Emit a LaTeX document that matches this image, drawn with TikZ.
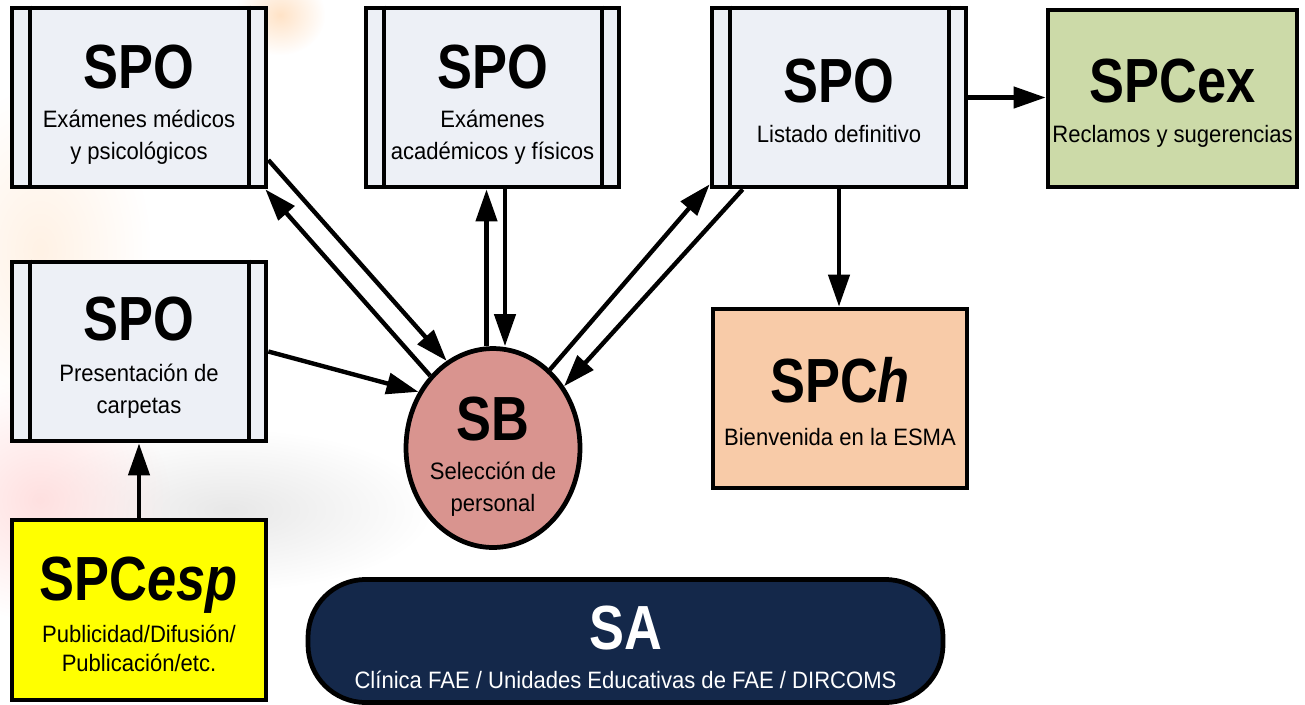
\documentclass[tikz,border=0pt]{standalone}
\usepackage{fontspec}
\setmainfont{Liberation Sans}
\newfontfamily\headfont[FakeStretch=0.84]{Liberation Sans}
\newfontfamily\subfont[FakeStretch=0.93]{Liberation Sans}
\usetikzlibrary{arrows.meta,shapes.geometric,calc,fadings}

\definecolor{spofill}{HTML}{EDF0F6}
\definecolor{exfill}{HTML}{CCDAA8}
\definecolor{hfill}{HTML}{F8CBA8}
\definecolor{sbfill}{HTML}{D9948F}
\definecolor{espfill}{HTML}{FFFF00}
\definecolor{safill}{HTML}{14284A}

\tikzfading[name=softspot, inner color=transparent!0, outer color=transparent!100]

\begin{document}
\begin{tikzpicture}[x=0.02cm,y=-0.02cm,
  box/.style={draw=black, line width=2.7pt, rectangle, inner sep=0pt},
  spo/.style={box, fill=spofill, minimum width=5.08cm, minimum height=3.58cm},
  title/.style={font=\headfont\bfseries\fontsize{35.5}{40}\selectfont, anchor=base, inner sep=0pt},
  sub/.style={font=\subfont\fontsize{13.5}{16}\selectfont, anchor=base, inner sep=0pt},
  arr/.style={line width=2.5pt, -{Triangle[length=0.64cm,width=0.42cm]}},
  bar/.style={line width=2.3pt},
  haze/.style={path fading=softspot}]

\useasboundingbox (0,0) rectangle (1305,704);
\fill[white] (0,0) rectangle (1305,704);

% faint backdrop on the left side
\fill[haze, black!9] (230,510) ellipse (200 and 80);
\fill[haze, red!12] (40,500) ellipse (130 and 120);
\fill[haze, orange!10] (40,250) ellipse (110 and 160);
\fill[haze, orange!22] (280,15) ellipse (45 and 40);

% process boxes
\node[spo] (spoA) at (139,97.5) {};
\node[spo, minimum width=5.06cm] (spoB) at (492.5,97.5) {};
\node[spo] (spoC) at (839,97.5) {};
\node[spo] (spoD) at (139,351.5) {};
\foreach \n in {spoA,spoB,spoC,spoD}{
  \draw[bar] ([xshift=0.4cm]\n.north west) -- ([xshift=0.4cm]\n.south west);
  \draw[bar] ([xshift=-0.38cm]\n.north east) -- ([xshift=-0.38cm]\n.south east);
}

\node[box, fill=exfill, minimum width=4.98cm, minimum height=3.54cm] (spcex) at (1172.5,98.5) {};
\node[box, fill=hfill, minimum width=5.08cm, minimum height=3.58cm] (spch) at (840,398.5) {};
\node[box, fill=espfill, minimum width=5.08cm, minimum height=3.6cm] (spcesp) at (139,610) {};
\node[draw=black, line width=2.7pt, ellipse, fill=sbfill, minimum width=3.48cm, minimum height=3.98cm, inner sep=0pt] (sb) at (493,448) {};
\node[draw=black, line width=2.7pt, rectangle, rounded corners=1.15cm, fill=safill, minimum width=12.7cm, minimum height=2.46cm, inner sep=0pt] (sa) at (625.5,641) {};

% labels
\node[title] (tA) at (139,88) {SPO};
\node[sub] (sA1) at (139,127) {Exámenes médicos};
\node[sub] (sA2) at (139,159) {y psicológicos};

\node[title] (tB) at (492.5,88) {SPO};
\node[sub] (sB1) at (492.5,127) {Exámenes};
\node[sub] (sB2) at (492.5,159) {académicos y físicos};

\node[title] (tC) at (839,102) {SPO};
\node[sub] (sC1) at (839,142) {Listado definitivo};

\node[title] (tEx) at (1172.5,102) {SPCex};
\node[sub] (sEx1) at (1172.5,142) {Reclamos y sugerencias};

\node[title] (tD) at (139,340) {SPO};
\node[sub] (sD1) at (139,381) {Presentación de};
\node[sub] (sD2) at (139,413) {carpetas};

\node[title] (tEsp) at (139,600) {SPC{\itshape esp}};
\node[sub] (sEsp1) at (139,642) {Publicidad/Difusión/};
\node[sub] (sEsp2) at (139,671) {Publicación/etc.};

\node[title] (tSB) at (493,440) {SB};
\node[sub] (sSB1) at (493,479) {Selección de};
\node[sub] (sSB2) at (493,511) {personal};

\node[title] (tH) at (840,402) {SPC{\itshape h}};
\node[sub] (sH1) at (840,445) {Bienvenida en la ESMA};

\node[title, text=white] (tSA) at (625.5,649) {SA};
\node[sub, text=white] (sSA1) at (625.5,688) {Clínica FAE / Unidades Educativas de FAE / DIRCOMS};

% connectors
\draw[arr] ([yshift=-1.25cm]spoA.east) -- (sb.118);
\draw[arr] (sb.131) -- ([xshift=-0.06cm]spoA.south east);

\coordinate (upx) at ([xshift=-0.12cm]spoB.south);
\coordinate (dnx) at ([xshift=0.25cm]spoB.south);
\draw[arr] (sb.north -| upx) -- (upx);
\draw[arr] (dnx) -- (sb.north -| dnx);

\draw[arr] (sb.54) -- ([yshift=0.1cm]spoC.south west);
\draw[arr] ([xshift=0.66cm]spoC.south west) -- (sb.41);

\draw[arr] (spoD.east) -- (sb.143);
\draw[arr] (spcesp.north) -- (spoD.south);

\draw[arr] (spoC.east) -- (spcex.west |- spoC.east);
\draw[arr] (spoC.south) -- (spch.north -| spoC.south);

\end{tikzpicture}
\end{document}
